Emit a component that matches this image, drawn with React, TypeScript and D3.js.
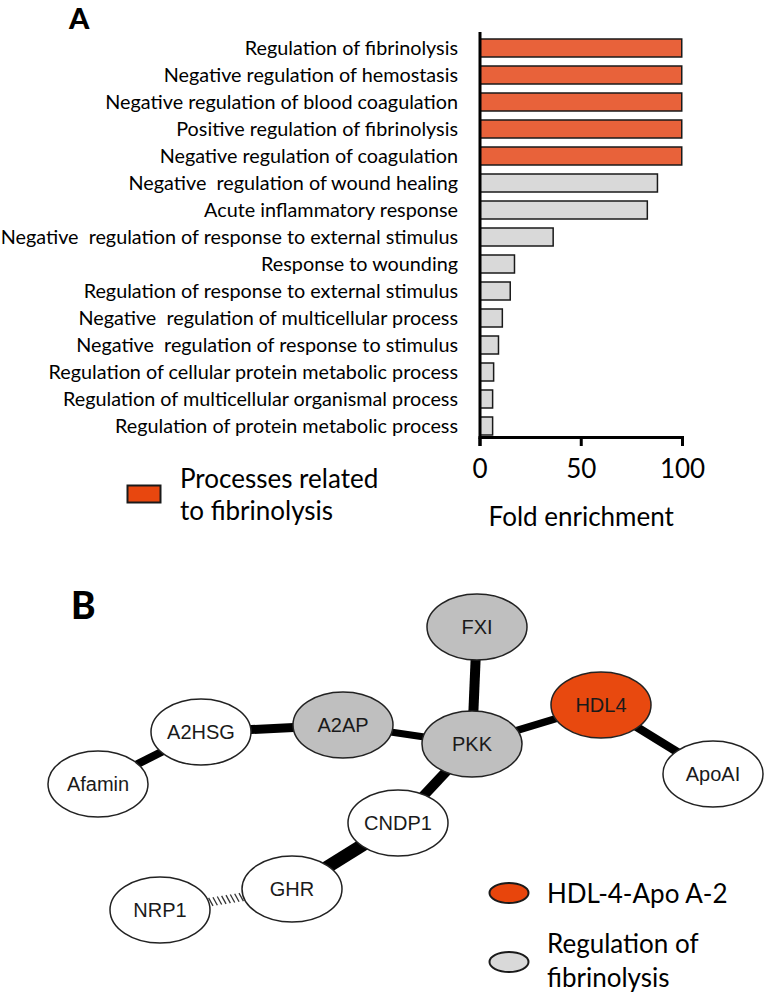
import React from 'react';
import * as d3 from 'd3';

// ---------- Panel A data ----------
const categories = [
  'Regulation of fibrinolysis',
  'Negative regulation of hemostasis',
  'Negative regulation of blood coagulation',
  'Positive regulation of fibrinolysis',
  'Negative regulation of coagulation',
  'Negative  regulation of wound healing',
  'Acute inflammatory response',
  'Negative  regulation of response to external stimulus',
  'Response to wounding',
  'Regulation of response to external stimulus',
  'Negative  regulation of multicellular process',
  'Negative  regulation of response to stimulus',
  'Regulation of cellular protein metabolic process',
  'Regulation of multicellular organismal process',
  'Regulation of protein metabolic process',
];
const foldEnrichment = [100, 100, 100, 100, 100, 88, 83, 36.5, 17.4, 15.3, 11.4, 9.5, 7.1, 6.6, 6.6];
const fibrinolysisRelated = [true, true, true, true, true, false, false, false, false, false, false, false, false, false, false];
const xTicks = [0, 50, 100];

// ---------- Panel B data ----------
const nodeNames = ['FXI', 'HDL4', 'PKK', 'A2AP', 'A2HSG', 'Afamin', 'ApoAI', 'CNDP1', 'GHR', 'NRP1'];
const nodeGroups = ['fib', 'hdl', 'fib', 'fib', 'none', 'none', 'none', 'none', 'none', 'none'];
const edgeSources = ['A2HSG', 'A2AP', 'FXI', 'PKK', 'HDL4', 'A2HSG', 'PKK', 'CNDP1', 'GHR'];
const edgeTargets = ['A2AP', 'PKK', 'PKK', 'HDL4', 'ApoAI', 'Afamin', 'CNDP1', 'GHR', 'NRP1'];
const edgeWeights = [9, 7, 10, 7.5, 8.5, 8, 10, 13, 0];
const edgeTypes = ['solid', 'solid', 'solid', 'solid', 'solid', 'solid', 'solid', 'solid', 'hatched'];

// node layout (pixel positions of the network drawing)
const nodeLayout: Record<string, [number, number]> = {
  FXI: [477, 627],
  HDL4: [601, 705],
  PKK: [472, 744],
  A2AP: [343, 725],
  A2HSG: [201, 732],
  Afamin: [98, 784],
  ApoAI: [713, 774],
  CNDP1: [398, 823],
  GHR: [292, 889],
  NRP1: [160, 910],
};

const W = 770;
const H = 993;
const labelFont = 'Lato, "Open Sans", sans-serif';
const nodeFont = '"Liberation Sans", Arial, sans-serif';

const groupFill: Record<string, string> = { fib: '#BFBFBF', hdl: '#E8490F', none: '#FFFFFF' };

export default function App() {
  // scales for panel A
  const x = d3.scaleLinear().domain([0, 100]).range([480, 682.5]);
  const y = d3.scaleBand<string>().domain(categories).range([34.5, 439.5]).paddingInner(1 / 3).paddingOuter(1 / 6);
  const axisY = 437.5;
  const tickLen = 8.5;

  const RX = 50;
  const RY = 33;

  const boundary = (dx: number, dy: number) => 1 / Math.sqrt((dx / RX) ** 2 + (dy / RY) ** 2);

  const edges = edgeSources.map((s, i) => ({ s, t: edgeTargets[i], w: edgeWeights[i], type: edgeTypes[i] }));

  return (
    <svg width={W} height={H} style={{ position: 'absolute', left: 0, top: 0, background: '#fff' }}>
      <rect x={0} y={0} width={W} height={H} fill="#fff" />
      {/* Panel label A */}
      <text x={69} y={29} fontFamily={labelFont} fontWeight={900} fontSize={29} fill="#000">A</text>

      {/* bars */}
      {categories.map((c, i) => (
        <g key={c}>
          <rect
            x={x(0)}
            y={y(c)!}
            width={x(foldEnrichment[i]) - x(0) - 0.75}
            height={y.bandwidth()}
            fill={fibrinolysisRelated[i] ? '#E8623A' : '#D9D9D9'}
            stroke="#1a1a1a"
            strokeWidth={1.5}
          />
          <text
            x={458}
            y={y(c)! + y.bandwidth() / 2 + 6.8}
            textAnchor="end"
            fontFamily={labelFont}
            fontSize={19.8}
            fill="#000"
            style={{ whiteSpace: 'pre' }}
          >
            {c}
          </text>
        </g>
      ))}

      {/* axes */}
      <line x1={x(0)} x2={x(0)} y1={32} y2={axisY + tickLen} stroke="#000" strokeWidth={3} />
      <line x1={x(0) - 1.5} x2={x(100) + 1.5} y1={axisY} y2={axisY} stroke="#000" strokeWidth={3} />
      {xTicks.map((t) => (
        <g key={t}>
          <line x1={x(t)} x2={x(t)} y1={axisY} y2={axisY + tickLen} stroke="#000" strokeWidth={3} />
          <text x={x(t)} y={478} textAnchor="middle" fontFamily={labelFont} fontSize={26} fill="#000">{t}</text>
        </g>
      ))}
      <text x={x(50)} y={526} textAnchor="middle" fontFamily={labelFont} fontSize={26} fill="#000">Fold enrichment</text>

      {/* legend A */}
      <rect x={127.5} y={485.5} width={33} height={17} fill="#E8470F" stroke="#1a1a1a" strokeWidth={2} />
      <text x={180} y={488} fontFamily={labelFont} fontSize={26} fill="#000">Processes related</text>
      <text x={180} y={520} fontFamily={labelFont} fontSize={26} fill="#000">to fibrinolysis</text>

      {/* Panel label B */}
      <text x={71} y={619} fontFamily={labelFont} fontWeight={900} fontSize={37} fill="#000">B</text>

      {/* edges */}
      {edges.map((e, i) => {
        const [x1, y1] = nodeLayout[e.s];
        const [x2, y2] = nodeLayout[e.t];
        if (e.type === 'solid') {
          return <line key={i} x1={x1} y1={y1} x2={x2} y2={y2} stroke="#000" strokeWidth={e.w} />;
        }
        const dx = x2 - x1;
        const dy = y2 - y1;
        const len = Math.hypot(dx, dy);
        const t0 = boundary(dx, dy);
        const t1 = 1 - boundary(-dx, -dy);
        const spacing = 4.4 / len;
        const ts = d3.range(t0 + spacing * 0.5, t1 - spacing * 0.3, spacing);
        return (
          <g key={i}>
            {ts.map((t, j) => {
              const px = x1 + dx * t;
              const py = y1 + dy * t;
              return (
                <line key={j} x1={px - 2.2} y1={py - 4} x2={px + 2.2} y2={py + 4} stroke="#333" strokeWidth={1.3} />
              );
            })}
          </g>
        );
      })}

      {/* nodes */}
      {nodeNames.map((n, i) => {
        const [cx, cy] = nodeLayout[n];
        return (
          <g key={n}>
            <ellipse cx={cx} cy={cy} rx={RX} ry={RY} fill={groupFill[nodeGroups[i]]} stroke="#222" strokeWidth={1.5} />
            <text x={cx} y={cy + 7} textAnchor="middle" fontFamily={nodeFont} fontSize={20} fill="#1a1a1a">{n}</text>
          </g>
        );
      })}

      {/* legend B */}
      <ellipse cx={509} cy={893} rx={19.5} ry={10} fill="#E8450C" stroke="#1a1a1a" strokeWidth={2} />
      <text x={547} y={903} fontFamily={labelFont} fontSize={26} fill="#000">HDL-4-Apo A-2</text>
      <ellipse cx={509} cy={962} rx={19.5} ry={10} fill="#D9D9D9" stroke="#1a1a1a" strokeWidth={2} />
      <text x={547} y={953} fontFamily={labelFont} fontSize={26} fill="#000">Regulation of</text>
      <text x={547} y={987} fontFamily={labelFont} fontSize={26} fill="#000">fibrinolysis</text>
    </svg>
  );
}
